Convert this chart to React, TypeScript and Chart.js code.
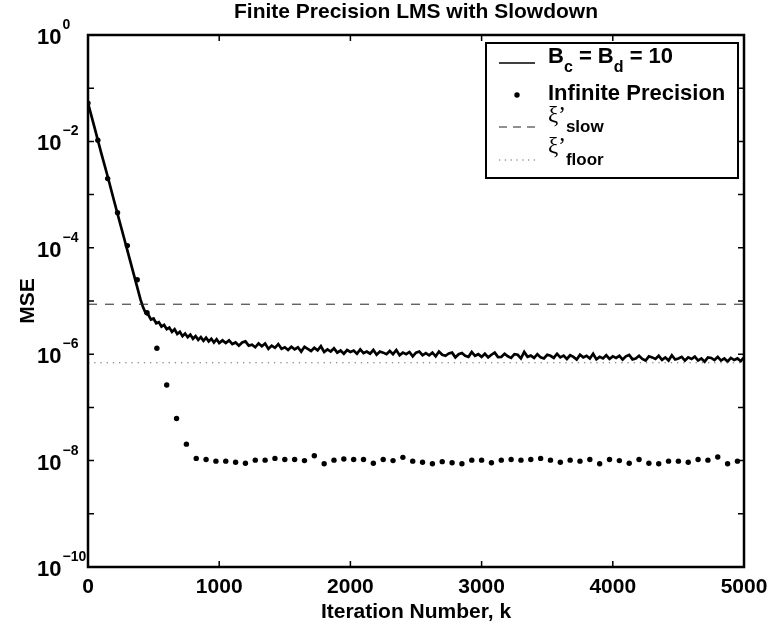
import React, { useEffect, useRef } from "react";
import { Chart, registerables } from "chart.js";

Chart.register(...registerables);

// ---------- data ----------
const titleText = "Finite Precision LMS with Slowdown";
const xTitleText = "Iteration Number, k";
const yTitleText = "MSE";

const xTickValues = [0, 1000, 2000, 3000, 4000, 5000];
const yTickValues = [1, 1e-1, 1e-2, 1e-3, 1e-4, 1e-5, 1e-6, 1e-7, 1e-8, 1e-9, 1e-10];
const yLabelValues = [1, 1e-2, 1e-4, 1e-6, 1e-8, 1e-10];
const yLabelExponents = ["0", "\u22122", "\u22124", "\u22126", "\u22128", "\u221210"];

// Finite precision (Bc = Bd = 10) learning curve
const finiteK = [
  0, 50, 100, 150, 200, 250, 300, 350, 400,
  420, 440, 460, 480, 500, 520, 540, 560, 580, 600,
  620, 640, 660, 680, 700, 720, 740, 760, 780, 800,
  820, 840, 860, 880, 900, 920, 940, 960, 980, 1000,
  1025, 1050, 1075, 1100, 1125, 1150, 1175, 1200, 1225, 1250, 1275, 1300, 1325, 1350, 1375, 1400, 1425, 1450, 1475, 1500,
  1525, 1550, 1575, 1600, 1625, 1650, 1675, 1700, 1725, 1750, 1775, 1800, 1825, 1850, 1875, 1900, 1925, 1950, 1975, 2000,
  2025, 2050, 2075, 2100, 2125, 2150, 2175, 2200, 2225, 2250, 2275, 2300, 2325, 2350, 2375, 2400, 2425, 2450, 2475, 2500,
  2525, 2550, 2575, 2600, 2625, 2650, 2675, 2700, 2725, 2750, 2775, 2800, 2825, 2850, 2875, 2900, 2925, 2950, 2975, 3000,
  3025, 3050, 3075, 3100, 3125, 3150, 3175, 3200, 3225, 3250, 3275, 3300, 3325, 3350, 3375, 3400, 3425, 3450, 3475, 3500,
  3525, 3550, 3575, 3600, 3625, 3650, 3675, 3700, 3725, 3750, 3775, 3800, 3825, 3850, 3875, 3900, 3925, 3950, 3975, 4000,
  4025, 4050, 4075, 4100, 4125, 4150, 4175, 4200, 4225, 4250, 4275, 4300, 4325, 4350, 4375, 4400, 4425, 4450, 4475, 4500,
  4525, 4550, 4575, 4600, 4625, 4650, 4675, 4700, 4725, 4750, 4775, 4800, 4825, 4850, 4875, 4900, 4925, 4950, 4975, 5000,
];
const finiteMSE = [
  5.25e-2, 1.82e-2, 6.17e-3, 2.19e-3, 7.41e-4, 2.57e-4, 8.91e-5, 3.09e-5, 1.07e-5,
  7.59e-6, 5.89e-6, 5.5e-6, 4.47e-6, 4.68e-6, 3.8e-6, 3.98e-6, 3.31e-6, 3.55e-6, 2.95e-6,
  3.16e-6, 2.63e-6, 2.95e-6, 2.4e-6, 2.63e-6, 2.19e-6, 2.45e-6, 2.09e-6, 2.34e-6, 1.95e-6,
  2.19e-6, 1.86e-6, 2.09e-6, 1.78e-6, 2.04e-6, 1.74e-6, 1.95e-6, 1.66e-6, 1.91e-6, 1.62e-6,
  1.82e-6, 1.62e-6, 1.82e-6, 1.55e-6, 1.66e-6, 1.45e-6, 1.66e-6, 1.74e-6, 1.45e-6, 1.51e-6, 1.35e-6, 1.59e-6, 1.41e-6, 1.59e-6, 1.26e-6, 1.45e-6, 1.32e-6, 1.55e-6, 1.26e-6, 1.35e-6,
  1.2e-6, 1.38e-6, 1.23e-6, 1.35e-6, 1.12e-6, 1.38e-6, 1.26e-6, 1.15e-6, 1.32e-6, 1.18e-6, 1.41e-6, 1.1e-6, 1.23e-6, 1.12e-6, 1.29e-6, 1.07e-6, 1.17e-6, 1.02e-6, 1.2e-6, 1.1e-6,
  1.17e-6, 1.02e-6, 1.23e-6, 1.05e-6, 1.12e-6, 1.02e-6, 1.2e-6, 9.77e-7, 1.12e-6, 1.07e-6, 1.0e-6, 1.15e-6, 1.0e-6, 1.2e-6, 9.55e-7, 1.07e-6, 1.0e-6, 1.1e-6, 9.12e-7, 1.07e-6,
  1.12e-6, 9.55e-7, 1.05e-6, 9.55e-7, 1.07e-6, 9.12e-7, 1.12e-6, 9.77e-7, 9.33e-7, 1.03e-6, 1.07e-6, 8.71e-7, 1.0e-6, 1.05e-6, 9.33e-7, 8.91e-7, 1.1e-6, 9.33e-7, 1.0e-6, 8.91e-7,
  1.02e-6, 8.71e-7, 9.77e-7, 1.07e-6, 8.81e-7, 8.91e-7, 1.02e-6, 9.12e-7, 8.51e-7, 1.0e-6, 9.77e-7, 8.32e-7, 1.1e-6, 8.91e-7, 9.4e-7, 8.51e-7, 1.0e-6, 8.71e-7, 8.32e-7, 9.77e-7,
  9.33e-7, 8.51e-7, 1.02e-6, 8.71e-7, 9.4e-7, 8.13e-7, 9.55e-7, 8.91e-7, 7.94e-7, 9.77e-7, 8.71e-7, 9.33e-7, 8.32e-7, 1.02e-6, 8.0e-7, 8.91e-7, 8.32e-7, 9.55e-7, 8.13e-7, 9.12e-7,
  8.51e-7, 9.33e-7, 7.94e-7, 9.12e-7, 9.66e-7, 8.0e-7, 8.32e-7, 9.33e-7, 8.13e-7, 7.59e-7, 9.12e-7, 8.71e-7, 8.13e-7, 9.33e-7, 7.85e-7, 8.71e-7, 7.59e-7, 9.55e-7, 7.94e-7, 8.32e-7,
  8.91e-7, 7.59e-7, 8.71e-7, 8.13e-7, 9.0e-7, 7.59e-7, 8.32e-7, 7.24e-7, 8.71e-7, 8.51e-7, 7.76e-7, 8.91e-7, 7.59e-7, 8.32e-7, 7.3e-7, 8.51e-7, 7.76e-7, 8.32e-7, 7.41e-7, 8.71e-7,
];

// Infinite precision learning curve (one marker every 75 iterations)
const infiniteK = [
  0, 75, 150, 225, 300, 375, 450, 525, 600, 675, 750,
  825, 900, 975, 1050, 1125, 1200, 1275, 1350, 1425, 1500, 1575, 1650, 1725, 1800,
  1875, 1950, 2025, 2100, 2175, 2250, 2325, 2400, 2475, 2550, 2625, 2700, 2775, 2850,
  2925, 3000, 3075, 3150, 3225, 3300, 3375, 3450, 3525, 3600, 3675, 3750, 3825, 3900,
  3975, 4050, 4125, 4200, 4275, 4350, 4425, 4500, 4575, 4650, 4725, 4800, 4875, 4950,
];
const infiniteMSE = [
  5.25e-2, 1.05e-2, 2.0e-3, 4.57e-4, 1.1e-4, 2.51e-5, 6.03e-6, 1.29e-6, 2.63e-7, 6.17e-8, 2.04e-8,
  1.1e-8, 1.05e-8, 9.77e-9, 9.77e-9, 9.33e-9, 8.91e-9, 1.02e-8, 1.02e-8, 1.1e-8, 1.05e-8, 1.05e-8, 1.0e-8, 1.23e-8, 8.71e-9,
  1.02e-8, 1.07e-8, 1.05e-8, 1.05e-8, 8.91e-9, 1.05e-8, 1.0e-8, 1.15e-8, 9.77e-9, 9.33e-9, 8.71e-9, 9.55e-9, 9.1e-9, 8.71e-9,
  1.02e-8, 1.02e-8, 9.12e-9, 1.02e-8, 1.05e-8, 1.02e-8, 1.05e-8, 1.1e-8, 1.02e-8, 9.33e-9, 1.02e-8, 9.77e-9, 1.05e-8, 8.71e-9,
  1.05e-8, 1.0e-8, 8.91e-9, 1.05e-8, 8.91e-9, 8.71e-9, 9.77e-9, 9.77e-9, 9.33e-9, 1.05e-8, 1.02e-8, 1.17e-8, 8.71e-9, 9.77e-9,
];

// Theoretical levels
const xiSlowLevel = 8.7e-6;
const xiFloorLevel = 6.9e-7;
const levelK = [0, 5000];

// ---------- styling ----------
const SANS = "'Liberation Sans', Arial, Helvetica, sans-serif";
const SERIF = "'Liberation Serif', 'DejaVu Serif', serif";

function drawRich(ctx: CanvasRenderingContext2D, parts: { t: string; font: string; dy: number }[], x: number, y: number) {
  let cx = x;
  for (const p of parts) {
    ctx.font = p.font;
    ctx.fillText(p.t, cx, y + p.dy);
    cx += ctx.measureText(p.t).width;
  }
  return cx;
}

const decorPlugin = {
  id: "matlabDecor",
  afterDatasetsDraw(chart: any) {
    const ctx: CanvasRenderingContext2D = chart.ctx;
    const a = chart.chartArea;
    const xs = chart.scales.x;
    const ys = chart.scales.y;
    ctx.save();
    ctx.fillStyle = "#000";
    ctx.strokeStyle = "#000";

    // tick marks (inside, on all four sides)
    ctx.lineWidth = 1.5;
    ctx.beginPath();
    for (const v of xTickValues) {
      const px = xs.getPixelForValue(v);
      ctx.moveTo(px, a.bottom);
      ctx.lineTo(px, a.bottom - 6);
      ctx.moveTo(px, a.top);
      ctx.lineTo(px, a.top + 6);
    }
    for (const v of yTickValues) {
      const py = ys.getPixelForValue(v);
      ctx.moveTo(a.left, py);
      ctx.lineTo(a.left + 6, py);
      ctx.moveTo(a.right, py);
      ctx.lineTo(a.right - 6, py);
    }
    ctx.stroke();

    // axes box
    ctx.lineWidth = 2.5;
    ctx.strokeRect(a.left, a.top, a.right - a.left, a.bottom - a.top);

    // x tick labels
    ctx.font = `bold 21px ${SANS}`;
    ctx.textAlign = "center";
    ctx.textBaseline = "alphabetic";
    for (const v of xTickValues) {
      ctx.fillText(String(v), xs.getPixelForValue(v), a.bottom + 26);
    }

    // y tick labels 10^n
    ctx.textAlign = "left";
    yLabelValues.forEach((v, i) => {
      const py = ys.getPixelForValue(v);
      ctx.font = `bold 22px ${SANS}`;
      const bx = a.left - 51;
      ctx.fillText("10", bx, py + 9);
      const w = ctx.measureText("10").width;
      ctx.font = `bold 14px ${SANS}`;
      ctx.fillText(yLabelExponents[i], bx + w + 1, py - 6);
    });

    // title and axis titles
    const cx = (a.left + a.right) / 2;
    ctx.textAlign = "center";
    ctx.font = `bold 21px ${SANS}`;
    ctx.fillText(titleText, cx, a.top - 17);
    ctx.fillText(xTitleText, cx, a.bottom + 51);
    ctx.save();
    ctx.translate(34, (a.top + a.bottom) / 2);
    ctx.rotate(-Math.PI / 2);
    ctx.fillText(yTitleText, 0, 0);
    ctx.restore();

    // legend
    const L = a.right - 258;
    const R = a.right - 6;
    const T = a.top + 8;
    const B = a.top + 143;
    ctx.fillStyle = "#fff";
    ctx.fillRect(L, T, R - L, B - T);
    ctx.lineWidth = 2;
    ctx.strokeStyle = "#000";
    ctx.strokeRect(L, T, R - L, B - T);
    ctx.fillStyle = "#000";
    ctx.textAlign = "left";
    const sx0 = L + 13;
    const sx1 = L + 49;
    const tx = L + 62;
    const big = `bold 22px ${SANS}`;
    const sub = `bold 16px ${SANS}`;
    const sub2 = `bold 17px ${SANS}`;
    const greek = `23px ${SERIF}`;

    // entry 1: solid line
    const y1 = T + 20;
    ctx.lineWidth = 1.5;
    ctx.setLineDash([]);
    ctx.beginPath();
    ctx.moveTo(sx0, y1);
    ctx.lineTo(sx1, y1);
    ctx.stroke();
    drawRich(ctx, [
      { t: "B", font: big, dy: 0 },
      { t: "c", font: sub, dy: 9 },
      { t: " = B", font: big, dy: 0 },
      { t: "d", font: sub, dy: 9 },
      { t: " = 10", font: big, dy: 0 },
    ], tx, y1);

    // entry 2: dot
    const y2 = T + 52;
    ctx.beginPath();
    ctx.arc((sx0 + sx1) / 2, y2, 2.7, 0, Math.PI * 2);
    ctx.fill();
    ctx.font = big;
    ctx.fillText("Infinite Precision", tx, y2 + 5);

    // entry 3: dashed
    const y3 = T + 84;
    ctx.lineWidth = 1;
    ctx.strokeStyle = "#222";
    ctx.setLineDash([8, 6]);
    ctx.beginPath();
    ctx.moveTo(sx0, y3);
    ctx.lineTo(sx1, y3);
    ctx.stroke();
    drawRich(ctx, [
      { t: "\u03BE\u2019", font: greek, dy: -5 },
      { t: "slow", font: sub2, dy: 5 },
    ], tx, y3);

    // entry 4: dotted
    const y4 = T + 117;
    ctx.strokeStyle = "#666";
    ctx.setLineDash([1.3, 4.5]);
    ctx.beginPath();
    ctx.moveTo(sx0, y4);
    ctx.lineTo(sx1, y4);
    ctx.stroke();
    ctx.setLineDash([]);
    drawRich(ctx, [
      { t: "\u03BE\u2019", font: greek, dy: -7 },
      { t: "floor", font: sub2, dy: 5 },
    ], tx, y4);

    ctx.restore();
  },
};

export default function App() {
  const canvasRef = useRef<HTMLCanvasElement | null>(null);

  useEffect(() => {
    document.body.style.margin = "0";
    const canvas = canvasRef.current;
    if (!canvas) return;

    const finitePts = finiteK.map((k, i) => ({ x: k, y: finiteMSE[i] }));
    const infinitePts = infiniteK.map((k, i) => ({ x: k, y: infiniteMSE[i] }));
    const slowPts = levelK.map((k) => ({ x: k, y: xiSlowLevel }));
    const floorPts = levelK.map((k) => ({ x: k, y: xiFloorLevel }));

    const chart = new Chart(canvas, {
      type: "line",
      data: {
        datasets: [
          {
            label: "xi floor",
            data: floorPts,
            borderColor: "#666",
            borderWidth: 1,
            borderDash: [1.3, 4.9],
            pointRadius: 0,
            fill: false,
          },
          {
            label: "xi slow",
            data: slowPts,
            borderColor: "#222",
            borderWidth: 1,
            borderDash: [9, 8],
            pointRadius: 0,
            fill: false,
          },
          {
            label: "Bc = Bd = 10",
            data: finitePts,
            borderColor: "#000",
            borderWidth: 2.7,
            borderJoinStyle: "miter",
            pointRadius: 0,
            tension: 0,
            fill: false,
          },
          {
            label: "Infinite Precision",
            data: infinitePts,
            showLine: false,
            pointRadius: 2.7,
            pointHoverRadius: 2.7,
            pointBackgroundColor: "#000",
            pointBorderWidth: 0,
            borderColor: "#000",
          },
        ],
      },
      options: {
        responsive: false,
        animation: false,
        events: [],
        layout: { padding: { left: 88, right: 30, top: 35, bottom: 61 } },
        scales: {
          x: { type: "linear", min: 0, max: 5000, display: false },
          y: { type: "logarithmic", min: 1e-10, max: 1, display: false },
        },
        plugins: {
          legend: { display: false },
          title: { display: false },
          tooltip: { enabled: false },
        },
      },
      plugins: [decorPlugin],
    });

    return () => chart.destroy();
  }, []);

  return (
    <div style={{ position: "absolute", left: 0, top: 0, width: 774, height: 628, background: "#fff" }}>
      <canvas ref={canvasRef} width={774} height={628} style={{ display: "block" }} />
    </div>
  );
}
